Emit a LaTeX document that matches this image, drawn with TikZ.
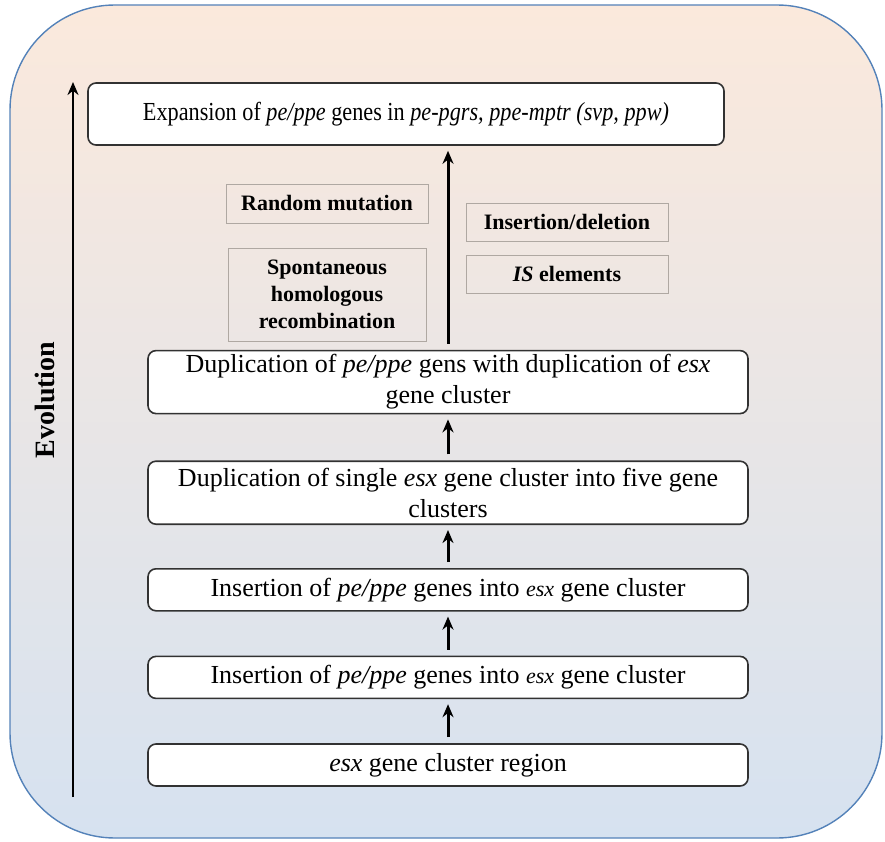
\documentclass[tikz,border=0pt]{standalone}
\usepackage{fontspec}
\setmainfont{Liberation Serif}
\usepackage{xcolor}
\definecolor{colorPeach}{RGB}{251,233,220}
\definecolor{colorSky}{RGB}{214,226,240}
\definecolor{colorFrame}{RGB}{84,130,185}
\definecolor{colorStage}{RGB}{50,50,50}
\definecolor{colorFactor}{RGB}{175,168,162}
\usepackage{tikz}
\usetikzlibrary{arrows.meta, positioning}
\tikzset{stageBox/.style={draw=colorStage, line width=1.6pt, fill=white, rounded corners=8pt, minimum width=600pt, minimum height=42pt, inner sep=2pt, align=center, font=\fontsize{26}{31}\selectfont},
  factorBox/.style={draw=colorFactor, line width=0.9pt, inner sep=2pt, align=center, font=\fontsize{22}{27}\selectfont\bfseries}}
\newcommand{\smallEsx}{{\fontsize{22}{27}\selectfont\textit{esx}}}

\begin{document}
\begin{tikzpicture}[x=1pt, y=-1pt, >={Stealth[length=13pt, width=11pt]}, node distance=44pt]
\useasboundingbox (0,0) rectangle (885,842);
% background panel
\draw[colorFrame, line width=1.4pt, rounded corners=105pt, top color=colorPeach, middle color=colorPeach!94!colorSky, bottom color=colorSky] (10,5) rectangle (882,838);
% stages, from the bottom up
\node[stageBox] (e0) at (448,765) {\textit{esx} gene cluster region};
\node[stageBox, above=of e0] (e1) {Insertion of \textit{pe/ppe} genes into \smallEsx{} gene cluster};
\node[stageBox, above=of e1] (e2) {Insertion of \textit{pe/ppe} genes into \smallEsx{} gene cluster};
\node[stageBox, above=43pt of e2, minimum height=63pt] (e3) {Duplication of single \textit{esx} gene cluster into five gene\\clusters};
\node[stageBox, above=46pt of e3, minimum height=63pt] (e4) {Duplication of \textit{pe/ppe} gens with duplication of \textit{esx}\\gene cluster};
\node[stageBox, minimum width=636pt, minimum height=62pt] (e5) at (406,114) {\scalebox{0.855}[1]{Expansion of \textit{pe/ppe} genes in \textit{pe-pgrs, ppe-mptr (svp, ppw)}}};
% factors
\node[factorBox, minimum width=202pt, minimum height=39pt] (f1) at (327,203.5) {Random mutation};
\node[factorBox, minimum width=198pt, minimum height=93pt] (f2) at (327,294.5) {Spontaneous\\homologous\\recombination};
\node[factorBox, minimum width=202pt, minimum height=38pt] (f3) at (567,222) {Insertion/deletion};
\node[factorBox, minimum width=202pt, minimum height=38pt] (f4) at (567,274) {\textit{IS} elements};
% arrows
\foreach \a/\b in {e0/e1, e1/e2, e2/e3, e3/e4}
  \draw[->, line width=3pt, shorten <=6pt, shorten >=5pt] (\a.north) -- (\b.south);
\draw[->, line width=3pt, shorten <=6pt, shorten >=5pt] (e4.north) -- (e4.north |- e5.south);
\coordinate (evoBot) at (73,797);
\coordinate (evoTop) at (73,82);
\draw[->, line width=2.4pt] (evoBot) -- (evoTop);
\node[rotate=90, font=\fontsize{28}{32}\selectfont\bfseries] (evo) at (45,400) {Evolution};
\end{tikzpicture}
\end{document}
